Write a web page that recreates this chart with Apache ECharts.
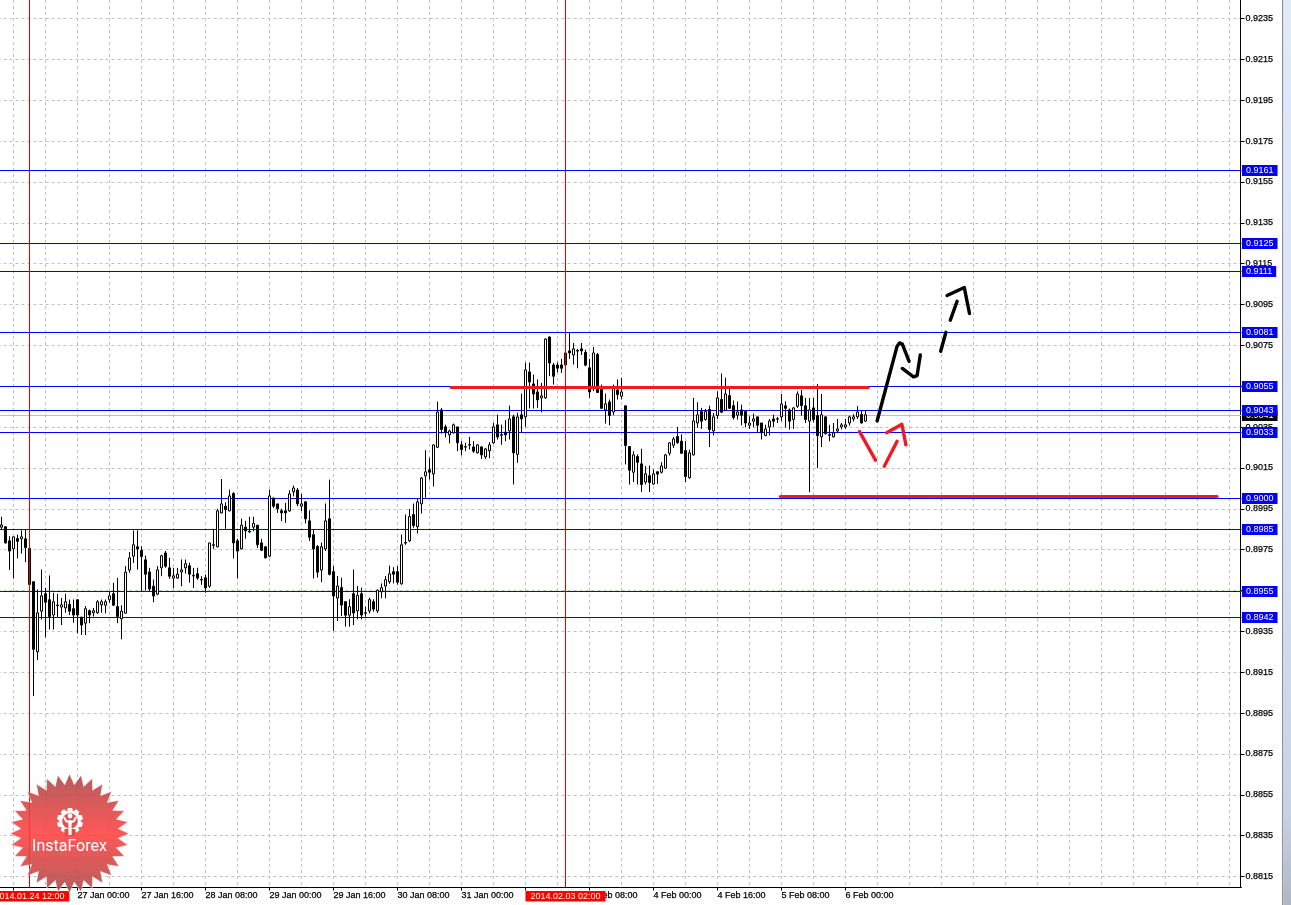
<!DOCTYPE html>
<html><head><meta charset="utf-8"><style>html,body{margin:0;padding:0;background:#fff;overflow:hidden}#c{width:1291px;height:905px}</style>
<script src="https://cdn.jsdelivr.net/npm/echarts@6/dist/echarts.min.js"></script></head><body><div id="c"></div>
<script>
const opens=[0.8986,0.89862,0.89793,0.89754,0.89804,0.89803,0.89803,0.89756,0.89593,0.8925,
0.89449,0.89534,0.89505,0.8943,0.89479,0.89469,0.89465,0.89482,0.89461,0.89505,
0.8942,0.8939,0.89451,0.89441,0.89441,0.8948,0.89478,0.89505,0.89534,0.89472,
0.89412,0.89439,0.8965,0.89718,0.89764,0.89746,0.897,0.89641,0.89571,0.89532,
0.89661,0.89734,0.89661,0.89611,0.89611,0.89641,0.89661,0.89671,0.89624,0.89632,
0.89604,0.89612,0.89571,0.89774,0.89764,0.8993,0.89963,0.8994,0.90025,0.89793,
0.89754,0.8986,0.8984,0.8986,0.8987,0.89783,0.89764,0.89718,0.90003,0.89974,
0.8994,0.8994,0.8994,0.90033,0.90042,0.89963,0.89984,0.89891,0.89823,0.89766,
0.8965,0.89754,0.89901,0.89642,0.89513,0.89564,0.89495,0.89429,0.89534,0.8945,
0.89534,0.89441,0.8945,0.89495,0.8945,0.89544,0.89572,0.89593,0.89642,0.89642,
0.89583,0.89785,0.89793,0.89922,0.89862,0.89974,0.90111,0.90141,0.90121,0.90251,
0.90434,0.90351,0.90312,0.90322,0.90351,0.90263,0.90254,0.90264,0.90253,0.90224,
0.90253,0.90204,0.90234,0.90273,0.90361,0.90313,0.90325,0.90331,0.904,0.90216,
0.9041,0.904,0.9062,0.90561,0.90522,0.90493,0.90493,0.90791,0.90654,0.90654,
0.90654,0.90654,0.90723,0.90703,0.90725,0.90733,0.90716,0.9064,0.90539,0.90705,
0.90535,0.90434,0.90473,0.90424,0.90532,0.90501,0.90454,0.90255,0.90129,0.90206,
0.9017,0.90081,0.90112,0.90071,0.90131,0.90129,0.90149,0.90222,0.90261,0.90304,
0.90281,0.90235,0.90102,0.90214,0.9037,0.90426,0.90387,0.90436,0.90331,0.90406,
0.90485,0.90432,0.90504,0.90455,0.90408,0.90434,0.90426,0.90359,0.90379,0.904,
0.9037,0.90309,0.90351,0.9039,0.90391,0.904,0.90454,0.90434,0.90387,0.90452,
0.90503,0.90454,0.90379,0.90444,0.90406,0.90302,0.904,0.90313,0.90302,0.90331,
0.90351,0.90351,0.9037,0.9039,0.904,0.90411,0.90379];
const closes=[0.89871,0.89783,0.89743,0.89813,0.89791,0.89813,0.8976,0.8958,0.89262,0.89441,
0.89524,0.89493,0.89423,0.89495,0.89476,0.8948,0.89495,0.89449,0.8943,0.8943,
0.89381,0.89461,0.8943,0.89451,0.89495,0.89495,0.89495,0.89524,0.89478,0.89423,
0.89449,0.8964,0.8971,0.89774,0.89754,0.89716,0.8963,0.89558,0.89523,0.89651,
0.8972,0.89669,0.8962,0.89622,0.8963,0.89651,0.89681,0.8963,0.89621,0.89611,
0.89601,0.89563,0.89783,0.89771,0.8994,0.89974,0.89946,0.90013,0.89783,0.89743,
0.8987,0.89842,0.89837,0.89879,0.89774,0.89747,0.8971,0.90013,0.89963,0.8995,
0.8993,0.8993,0.90023,0.90052,0.89974,0.89974,0.89901,0.89811,0.89753,0.8964,
0.89764,0.89891,0.89629,0.89523,0.89572,0.89479,0.89429,0.89471,0.8944,0.89526,
0.8943,0.89439,0.89505,0.89459,0.89552,0.89564,0.89603,0.89632,0.8963,0.89591,
0.89774,0.89782,0.89912,0.89868,0.89984,0.90101,0.90131,0.90129,0.90263,0.90424,
0.90338,0.90322,0.90331,0.90361,0.90273,0.9024,0.90252,0.90262,0.90232,0.90263,
0.90214,0.90243,0.90263,0.90351,0.90302,0.9031,0.90312,0.9039,0.90224,0.904,
0.9039,0.9063,0.90571,0.90512,0.90483,0.90503,0.90781,0.90664,0.90599,0.90638,
0.90638,0.90713,0.90713,0.90733,0.90722,0.90723,0.90653,0.90522,0.90713,0.90519,
0.90442,0.90464,0.90407,0.90539,0.90509,0.90522,0.9026,0.90139,0.90214,0.90178,
0.90069,0.90121,0.90079,0.90121,0.9012,0.9016,0.90214,0.90273,0.90292,0.90273,
0.90222,0.90108,0.90224,0.9038,0.9041,0.90379,0.90426,0.90338,0.904,0.90493,
0.90423,0.90512,0.90442,0.90397,0.90424,0.90408,0.9037,0.9037,0.9039,0.90359,
0.90322,0.90341,0.9038,0.90379,0.90389,0.90463,0.90442,0.90379,0.90444,0.90512,
0.90455,0.90387,0.90434,0.90387,0.90308,0.9041,0.90318,0.9031,0.90322,0.90341,
0.90361,0.90361,0.904,0.904,0.90424,0.9037,0.9041];
const highs=[0.89911,0.89865,0.89816,0.89813,0.89824,0.89845,0.89849,0.89756,0.89593,0.89555,
0.89653,0.89563,0.89624,0.89539,0.89534,0.89514,0.89534,0.89506,0.89506,0.89505,
0.8942,0.89474,0.89457,0.89465,0.89503,0.89506,0.89506,0.89547,0.89588,0.89612,
0.89478,0.89669,0.89738,0.89844,0.89844,0.89767,0.89721,0.89661,0.89604,0.89669,
0.89725,0.89744,0.8971,0.89661,0.89661,0.89702,0.89702,0.89686,0.89661,0.89661,
0.8962,0.89628,0.89783,0.89852,0.8995,0.90096,0.89982,0.90044,0.90031,0.89803,
0.89901,0.89891,0.89911,0.89911,0.8987,0.89803,0.89767,0.90044,0.90003,0.89974,
0.8995,0.89979,0.90041,0.90064,0.90052,0.90023,0.89987,0.89942,0.89846,0.89772,
0.89784,0.89976,0.90093,0.8967,0.89621,0.89613,0.89498,0.89507,0.89653,0.89572,
0.89564,0.89471,0.89515,0.89507,0.89555,0.89585,0.89621,0.89672,0.89664,0.8967,
0.89824,0.89922,0.89949,0.89976,0.89999,0.90106,0.90237,0.90199,0.90264,0.90475,
0.90444,0.90362,0.90338,0.90367,0.90351,0.90281,0.90273,0.90302,0.90281,0.90266,
0.90256,0.90248,0.90276,0.9037,0.90411,0.90362,0.90384,0.90455,0.90411,0.9042,
0.90514,0.90666,0.90666,0.90607,0.90583,0.90566,0.90784,0.90794,0.90664,0.90667,
0.90684,0.90716,0.90814,0.90762,0.90733,0.90762,0.90729,0.90684,0.90742,0.90713,
0.90558,0.90514,0.90485,0.90558,0.90583,0.90591,0.90455,0.90255,0.90232,0.90216,
0.90244,0.90159,0.90162,0.90142,0.90134,0.90178,0.90219,0.90276,0.90302,0.90351,
0.90314,0.90281,0.9024,0.90493,0.90472,0.90444,0.90439,0.90455,0.90419,0.90525,
0.90612,0.90592,0.90537,0.9048,0.90475,0.9046,0.90431,0.90403,0.90416,0.904,
0.9037,0.90362,0.9039,0.90411,0.904,0.90512,0.90476,0.90441,0.90447,0.90525,
0.90533,0.90493,0.90493,0.90493,0.90561,0.90512,0.90403,0.90361,0.9037,0.9039,
0.9037,0.9039,0.90406,0.90413,0.90452,0.90428,0.90432];
const lows=[0.89849,0.8978,0.8965,0.89609,0.89707,0.89731,0.89689,0.89514,0.89033,0.8921,
0.89408,0.89322,0.89359,0.89359,0.89421,0.89381,0.89441,0.8943,0.89392,0.8934,
0.89333,0.89332,0.8939,0.89423,0.89436,0.89441,0.89438,0.8949,0.89474,0.8939,
0.89311,0.89436,0.89637,0.89685,0.89653,0.89547,0.8955,0.89547,0.89493,0.89527,
0.8962,0.89661,0.89607,0.89562,0.89607,0.89571,0.89633,0.89588,0.89562,0.89602,
0.89578,0.89539,0.89563,0.89754,0.89761,0.89927,0.89852,0.89937,0.89707,0.89609,
0.89751,0.89803,0.89832,0.8984,0.89759,0.89743,0.89707,0.89713,0.89954,0.8993,
0.89889,0.89881,0.89935,0.90011,0.89963,0.89939,0.89878,0.89792,0.89609,0.89613,
0.89591,0.89744,0.89624,0.89352,0.89401,0.89425,0.89373,0.89373,0.89381,0.89409,
0.89409,0.89422,0.89438,0.89446,0.89441,0.89512,0.89512,0.89583,0.89585,0.89579,
0.89578,0.89774,0.89788,0.89857,0.89829,0.89927,0.90004,0.90093,0.90059,0.90248,
0.90318,0.90299,0.9027,0.90318,0.90232,0.90211,0.90232,0.9024,0.90224,0.9022,
0.90194,0.90194,0.90198,0.90269,0.90289,0.90263,0.90281,0.90289,0.90069,0.90175,
0.90322,0.90351,0.90441,0.90441,0.90444,0.90423,0.90488,0.90599,0.90558,0.90618,
0.90615,0.90648,0.90684,0.90656,0.90638,0.90703,0.90648,0.90493,0.90526,0.90517,
0.90439,0.90367,0.90359,0.90408,0.90485,0.90485,0.90167,0.90069,0.90081,0.90069,
0.90032,0.90069,0.90032,0.90069,0.90072,0.90123,0.90146,0.90211,0.90248,0.90269,
0.90219,0.90081,0.90097,0.90211,0.90346,0.90341,0.90382,0.90252,0.90309,0.9039,
0.90419,0.90429,0.90439,0.90387,0.90387,0.90359,0.90349,0.90341,0.90349,0.90325,
0.90289,0.90305,0.90309,0.90351,0.9037,0.90379,0.90349,0.90338,0.90341,0.90444,
0.90406,0.9037,0.90031,0.90374,0.90149,0.90252,0.90313,0.90281,0.90299,0.90322,
0.90338,0.90341,0.90357,0.90377,0.9039,0.90367,0.90375];
const dayStarts=[['24 Jan',5,24],['27 Jan',0,24],['28 Jan',0,24],['29 Jan',0,24],['30 Jan',0,24],['31 Jan',0,24],['3 Feb',0,24],['4 Feb',0,24],['5 Feb',0,24],['6 Feb',0,6]];
const yTicks=[0.8815,0.8835,0.8855,0.8875,0.8895,0.8915,0.8935,0.8955,0.8975,0.8995,0.9015,0.9035,0.9055,0.9075,0.9095,0.9115,0.9135,0.9155,0.9175,0.9195,0.9215,0.9235];
const levels=[0.9160596,0.91248625,0.91111565,0.9081297,0.9054864,0.9043116,0.9032347,0.900004,0.89848655,0.89545165,0.89417895];
const levelLabels=['0.9161','0.9125','0.9111','0.9081','0.9055','0.9043','0.9033','0.9000','0.8985','0.8955','0.8942'];
const bid=0.90406685;
const crossBars=[7,141];
const crossLabels=['2014.01.24 12:00','2014.02.03 02:00'];
const resistance=[[112.4,0.90544],[216.7,0.90544]];
const support=[[194.7,0.9001],[303.9,0.9001]];
const blackStrokes=[
[[218.9,0.9038],[223.9,0.90746],[224.5,0.90762],[225.2,0.90756],[226.9,0.90672]],
[[225.2,0.90637],[228,0.90596],[228.9,0.90602],[229.7,0.90703]],
[[234.8,0.90721],[236.1,0.90814]],
[[237.2,0.90873],[238.9,0.90966]],
[[236.4,0.90994],[240.7,0.91033],[242,0.90906]]];
const redStrokes=[
[[214.5,0.90328],[218.5,0.90188]],
[[220.7,0.90158],[223.9,0.90281]],
[[221.3,0.90322],[225.1,0.90364],[225.5,0.90358],[226.1,0.90263]]];

const S=0.00004895, yTop=0.9235+18.5*S, yBottom=yTop-887.5*S;
const categories=[''];
dayStarts.forEach(d=>{for(let h=d[1];h<d[1]+d[2]&&h<24;h++)categories.push(d[0]+' '+String(h).padStart(2,'0')+':00');});
while(categories.length<312)categories.push('');
const FONT='"Liberation Sans"',FS=9;
const candles=[['-','-','-','-']].concat(opens.map((o,i)=>[o,closes[i],lows[i],highs[i]]));
const stroke=(d,c,w)=>({type:'line',xAxisIndex:1,data:d,showSymbol:false,symbol:'none',silent:true,z:6,clip:false,lineStyle:{color:c,width:w,cap:'round',join:'round'}});
const tag=(v,txt,bg)=>({yAxis:v,label:{formatter:txt,backgroundColor:bg,color:'#fff'}});
const ml=(data,col,z)=>({type:'line',xAxisIndex:1,data:[],z:z,markLine:{silent:true,symbol:'none',animation:false,precision:8,z:z,
 lineStyle:{color:col,width:1,type:'solid'},
 label:{show:true,position:'end',distance:0.5,fontFamily:FONT,fontSize:FS,padding:[1,4,0,4],lineHeight:10},data:data}});

// logo geometry (decoration, not data)
const cx=69.5,cy=833.5,spikes=32,star=[];
for(let i=0;i<spikes*2;i++){const r=i%2?49:59.5,a=Math.PI*i/spikes-Math.PI/2;star.push([cx+r*Math.cos(a),cy+r*Math.sin(a)]);}
const gear=[],gc=[70,821],gt=10;
for(let i=0;i<gt;i++){const a=2*Math.PI*i/gt-Math.PI/2,w=0.2;[[10.5,-w*1.4],[13.2,-w*0.8],[13.2,w*0.8],[10.5,w*1.4]].forEach(p=>gear.push([gc[0]+p[0]*Math.cos(a+p[1]),gc[1]+p[0]*Math.sin(a+p[1])]));}
const graphics=[
 {type:'polygon',shape:{points:star},z:50,style:{opacity:0.88,stroke:'rgba(255,255,255,0.5)',lineWidth:1,fill:{type:'linear',x:0,y:0,x2:0,y2:1,colorStops:[{offset:0,color:'#a94848'},{offset:0.5,color:'#ff4040'},{offset:1,color:'#a94848'}]}}},
 {type:'polygon',shape:{points:gear},z:51,style:{fill:'#fff'}},
 {type:'circle',shape:{cx:gc[0],cy:gc[1],r:7.8},z:52,style:{fill:'#e65050'}},
 {type:'rect',shape:{x:gc[0]-5.5,y:gc[1]+8,width:11,height:7},z:52,style:{fill:'#f04848'}},
 {type:'rect',shape:{x:gc[0]-1.6,y:gc[1]-1,width:3.2,height:15},z:53,style:{fill:'#fff'}},
 {type:'circle',shape:{cx:gc[0],cy:gc[1]-5,r:2.4},z:53,style:{fill:'#fff'}},
 {type:'polyline',shape:{points:[[gc[0]-6,gc[1]-4],[gc[0]-4,gc[1]],[gc[0],gc[1]+2],[gc[0]+4,gc[1]],[gc[0]+6,gc[1]-4]]},z:53,style:{stroke:'#fff',lineWidth:2,fill:null}},
 {type:'text',x:cx,y:847,z:53,style:{text:'InstaForex',fill:'#fff',fontFamily:'Roboto',fontSize:16,align:'center',verticalAlign:'middle'}},
 {type:'rect',shape:{x:1282,y:0,width:1.4,height:905},z:60,style:{fill:'#8b9099'}},
 {type:'rect',shape:{x:1283.4,y:0,width:8,height:905},z:60,style:{fill:{type:'linear',x:0,y:0,x2:0,y2:1,colorStops:[{offset:0,color:'#dfeafa'},{offset:0.55,color:'#d4e3f6'},{offset:0.9,color:'#c5d3e6'},{offset:1,color:'#aeb8c2'}]}}}
];

const chart=echarts.init(document.getElementById('c'),null,{renderer:'canvas'});
chart.setOption({animation:false,backgroundColor:'#fff',
 grid:{left:-2.5,top:0,width:1244,height:887.5,containLabel:false,outerBoundsMode:'none'},
 xAxis:[{type:'category',data:categories,boundaryGap:false,position:'bottom',
   axisLine:{show:true,onZero:false,lineStyle:{color:'#000',width:1}},
   axisTick:{show:true,length:3,interval:(i)=>i<=217&&(i-4)%16===0,lineStyle:{color:'#000'}},
   axisLabel:{show:true,interval:(i)=>i<=217&&(i-4)%16===0,align:'left',margin:4,color:'#000',fontFamily:FONT,fontSize:FS,hideOverlap:false,textBorderColor:'#000',textBorderWidth:0.25},
   splitLine:{show:true,interval:(i)=>(i-4)%8===0,lineStyle:{color:'#c0c0c0',type:[3,3],width:1}}},
  {type:'value',min:-1,max:310,show:false,splitLine:{show:false}}],
 yAxis:[{type:'value',position:'right',offset:-1,min:yBottom,max:yTop,scale:true,
   axisLine:{show:true,onZero:false,lineStyle:{color:'#000',width:1}},
   axisTick:{show:true,length:4,customValues:yTicks,lineStyle:{color:'#000'}},
   axisLabel:{show:true,customValues:yTicks,margin:5,color:'#000',fontFamily:FONT,fontSize:FS,formatter:v=>v.toFixed(4),textBorderColor:'#000',textBorderWidth:0.25},
   splitLine:{show:true,customValues:yTicks,lineStyle:{color:'#c0c0c0',type:[3,3],width:1}}}],
 graphic:graphics,
 series:[
  ml([tag(bid,'0.9041','#000')],'#c0c0c0',1),
  ml(levels.map((v,i)=>tag(v,levelLabels[i],'#0000ff')),'#0000ff',2),
  {type:'line',xAxisIndex:1,data:[],z:3,markLine:{silent:true,symbol:'none',animation:false,z:30,lineStyle:{color:'#e00000',width:1,type:'solid'},
    label:{show:true,position:'start',distance:3.5,fontFamily:FONT,fontSize:FS,color:'#fff',backgroundColor:'#ff0000',width:80,align:'center',lineHeight:10.5,padding:[0,0,0,0]},
    data:crossBars.map((b,i)=>({xAxis:b,label:{formatter:crossLabels[i]}}))}},
  {type:'candlestick',xAxisIndex:0,yAxisIndex:0,data:candles,barWidth:2,z:4,clip:false,silent:true,
    itemStyle:{color:'#fff',color0:'#000',borderColor:'#000',borderColor0:'#000',borderWidth:1}},
  stroke(resistance,'#ed1c24',3),stroke(support,'#ed1c24',3),
  ...blackStrokes.map(d=>stroke(d,'#000',3.4)),
  ...redStrokes.map(d=>stroke(d,'#ed1c24',3.4))
 ]});
</script></body></html>
